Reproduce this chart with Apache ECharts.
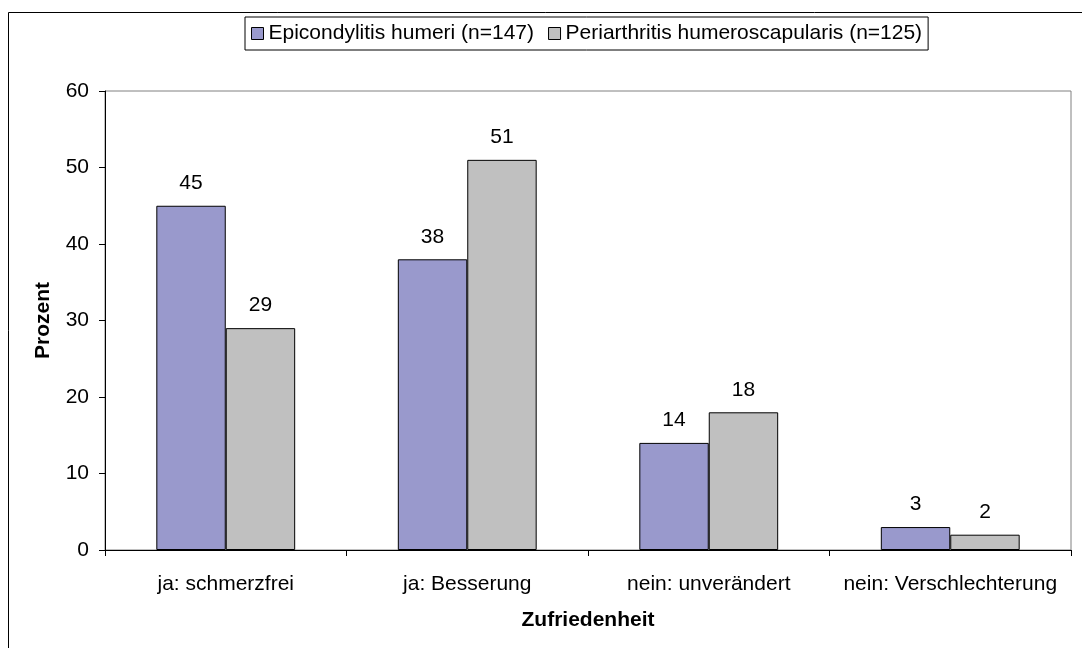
<!DOCTYPE html>
<html>
<head>
<meta charset="utf-8">
<script src="https://cdn.jsdelivr.net/npm/echarts@6/dist/echarts.min.js"></script>
<style>
html, body { margin: 0; padding: 0; background: #fff; }
#main { width: 1082px; height: 648px; }
</style>
</head>
<body>
<div id="main"></div>
<script>
var categories = ['ja: schmerzfrei', 'ja: Besserung', 'nein: unverändert', 'nein: Verschlechterung'];
var epicondylitis = [45, 38, 14, 3];
var periarthritis = [29, 51, 18, 2];
var yTicks = [0, 10, 20, 30, 40, 50, 60];

function display() {
	var myChart = echarts.init(document.getElementById('main'));
	var font = 'Liberation Sans, Arial, sans-serif';

	var labelStyle = {
		show: true,
		position: 'top',
		distance: 12,
		color: '#000',
		fontSize: 21,
		fontFamily: font
	};

	var option = {
		animation: false,
		backgroundColor: '#fff',
		graphic: [{
			type: 'rect',
			shape: { x: 8.5, y: 12.5, width: 1200, height: 800 },
			style: { fill: 'none', stroke: '#000', lineWidth: 1 },
			silent: true
		}],
		legend: {
			top: 17,
			left: 245,
			padding: [6, 6, 6, 6],
			itemGap: 14,
			itemWidth: 12,
			itemHeight: 12,
			borderColor: '#000',
			borderWidth: 1,
			icon: 'rect',
			itemStyle: { borderColor: '#000', borderWidth: 1 },
			textStyle: { fontSize: 21, fontFamily: font, color: '#000', padding: [0, 0, 0, 0] },
			data: ['Epicondylitis humeri (n=147)', 'Periarthritis humeroscapularis (n=125)']
		},
		grid: {
			left: 105,
			right: 11,
			top: 91,
			bottom: 98,
			show: true,
			borderColor: '#808080',
			borderWidth: 1
		},
		xAxis: {
			type: 'category',
			data: categories,
			name: 'Zufriedenheit',
			nameLocation: 'middle',
			nameGap: 60,
			nameTextStyle: { fontSize: 21, fontWeight: 'bold', fontFamily: font, color: '#000' },
			axisLine: { lineStyle: { color: '#000', width: 1 } },
			axisTick: { show: true, interval: 0, length: 6, lineStyle: { color: '#000' } },
			axisLabel: { interval: 0, fontSize: 21, fontFamily: font, color: '#000', margin: 24 }
		},
		yAxis: {
			type: 'value',
			min: yTicks[0],
			max: yTicks[yTicks.length - 1],
			interval: 10,
			name: 'Prozent',
			nameLocation: 'middle',
			nameGap: 51,
			nameRotate: 90,
			nameTextStyle: { fontSize: 21, fontWeight: 'bold', fontFamily: font, color: '#000' },
			axisLine: { show: true, lineStyle: { color: '#000', width: 1 } },
			axisTick: { show: true, length: 6, lineStyle: { color: '#000' } },
			axisLabel: { fontSize: 21, fontFamily: font, color: '#000', margin: 16 },
			splitLine: { show: false }
		},
		series: [
			{
				name: 'Epicondylitis humeri (n=147)',
				type: 'bar',
				data: epicondylitis,
				barGap: '0%',
				barCategoryGap: '42.5%',
				itemStyle: { color: '#9999cc', borderColor: '#000', borderWidth: 1 },
				label: labelStyle
			},
			{
				name: 'Periarthritis humeroscapularis (n=125)',
				type: 'bar',
				data: periarthritis,
				itemStyle: { color: '#c0c0c0', borderColor: '#000', borderWidth: 1 },
				label: labelStyle
			}
		]
	};

	myChart.setOption(option);
}

display();
</script>
</body>
</html>
